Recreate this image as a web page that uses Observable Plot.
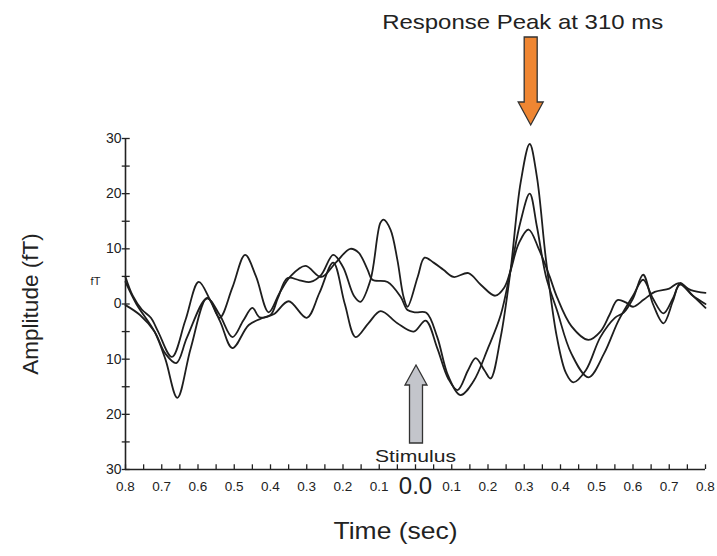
<!DOCTYPE html>
<html>
<head>
<meta charset="utf-8">
<script src="https://cdn.jsdelivr.net/npm/d3@7"></script>
<script src="https://cdn.jsdelivr.net/npm/@observablehq/plot@0.6"></script>
<style>
  html, body { margin: 0; padding: 0; background: #fff; }
  #chart svg { display: block; }
</style>
</head>
<body>
<div id="chart"></div>
<script>
// ---- Data (time in s, amplitude in fT) ----
const traceA = [
  [-0.80, 4.0], [-0.77, 0.0], [-0.72, -5.0], [-0.69, -10.0], [-0.657, -17.0], [-0.62, -8.0],
  [-0.575, 1.1], [-0.54, -3.0], [-0.505, -8.0], [-0.46, -3.8], [-0.42, -2.5], [-0.39, -1.8],
  [-0.35, 0.5], [-0.30, -2.5], [-0.265, 2.0], [-0.227, 7.5], [-0.195, 0.0], [-0.165, -6.0],
  [-0.13, -3.5], [-0.096, -1.3], [-0.05, -3.5], [-0.005, -5.0], [0.028, -3.0], [0.06, -8.0],
  [0.09, -13.5], [0.116, -15.6], [0.145, -12.0], [0.166, -9.8], [0.19, -12.0], [0.207, -13.5],
  [0.235, -6.0], [0.262, 6.0], [0.29, 22.0], [0.315, 29.0], [0.335, 23.0], [0.36, 8.0],
  [0.39, -6.0], [0.415, -12.5], [0.435, -14.2], [0.47, -12.0], [0.51, -6.0], [0.55, -2.5],
  [0.575, -1.5], [0.60, 1.0], [0.628, 5.3], [0.655, 0.0], [0.684, -3.5], [0.71, 0.5],
  [0.73, 3.8], [0.765, 1.5], [0.80, -0.7]
];
const traceB = [
  [-0.80, 4.9], [-0.78, 1.5], [-0.755, -1.0], [-0.73, -2.5], [-0.71, -5.0], [-0.672, -9.6],
  [-0.635, -3.0], [-0.598, 4.0], [-0.565, 0.5], [-0.54, -2.5], [-0.505, 3.0], [-0.47, 8.9],
  [-0.44, 5.0], [-0.405, -1.5], [-0.375, 2.0], [-0.345, 5.0], [-0.304, 6.9], [-0.26, 4.9],
  [-0.22, 7.5], [-0.18, 10.0], [-0.157, 9.3], [-0.132, 6.2], [-0.119, 4.4], [-0.077, 4.0],
  [-0.041, 1.3], [-0.022, -1.1], [0.0, -1.5], [0.03, -1.6], [0.06, -6.0], [0.09, -13.0],
  [0.124, -16.5], [0.16, -14.0], [0.20, -8.0], [0.235, -2.0], [0.262, 6.0], [0.29, 15.0],
  [0.315, 20.0], [0.335, 14.0], [0.36, 5.0], [0.39, -1.1], [0.43, -9.0], [0.477, -13.3],
  [0.52, -9.0], [0.56, -3.0], [0.60, 1.5], [0.628, 4.4], [0.655, 1.0], [0.684, -1.7],
  [0.71, 1.0], [0.73, 3.5], [0.765, 1.5], [0.80, 0.0]
];
const traceC = [
  [-0.80, -0.2], [-0.76, -2.0], [-0.72, -5.0], [-0.69, -9.0], [-0.66, -10.7], [-0.63, -6.0],
  [-0.575, 1.0], [-0.54, -2.0], [-0.505, -6.0], [-0.475, -3.0], [-0.45, -0.7], [-0.43, -2.4],
  [-0.40, -2.0], [-0.38, 1.0], [-0.353, 4.7], [-0.32, 4.3], [-0.29, 4.0], [-0.26, 5.3],
  [-0.227, 8.9], [-0.20, 6.7], [-0.17, 1.5], [-0.152, 0.4], [-0.124, 4.4], [-0.097, 14.7],
  [-0.088, 15.3], [-0.069, 13.5], [-0.05, 8.0], [-0.033, 1.3], [-0.022, -0.5], [0.006, 4.9],
  [0.025, 8.4], [0.05, 7.5], [0.077, 6.2], [0.105, 4.9], [0.146, 5.6], [0.18, 3.5],
  [0.22, 1.5], [0.245, 3.0], [0.262, 6.0], [0.285, 11.0], [0.312, 13.5], [0.34, 10.0],
  [0.37, 5.0], [0.39, 1.3], [0.43, -4.0], [0.477, -6.5], [0.51, -5.0], [0.535, -2.0],
  [0.557, 0.7], [0.58, 0.3], [0.60, -0.5], [0.63, 0.8], [0.66, 2.2], [0.70, 2.8],
  [0.726, 3.8], [0.76, 2.5], [0.80, 2.0]
];
const seriesNames = ["A", "B", "C"];

const xLabelValues = [-0.8, -0.7, -0.6, -0.5, -0.4, -0.3, -0.2, -0.1, 0.0, 0.1, 0.2, 0.3, 0.4, 0.5, 0.6, 0.7, 0.8];
const xMinorTicks = [-0.8, -0.75, -0.7, -0.65, -0.6, -0.55, -0.5, -0.45, -0.4, -0.35, -0.3, -0.25, -0.2, -0.15, -0.1, -0.05, 0.0,
                     0.05, 0.1, 0.15, 0.2, 0.25, 0.3, 0.35, 0.4, 0.45, 0.5, 0.55, 0.6, 0.65, 0.7, 0.75, 0.8];
const yLabelValues = [30, 20, 10, 0, -10, -20, -30];
const yMinorTicks = [30, 25, 20, 15, 10, 5, 0, -5, -10, -15, -20, -25, -30];

const peakTime = 0.315;
const stimulusTime = 0.0;
const titleText = "Response Peak at 310 ms";
const stimulusText = "Stimulus";
const xTitle = "Time (sec)";
const yTitle = "Amplitude (fT)";
const unitText = "fT";

// ---- build table ----
const rows = [];
[traceA, traceB, traceC].forEach((tr, i) => tr.forEach(([t, v]) => rows.push({series: seriesNames[i], t, v})));

const X0 = -0.8, X1 = 0.8, Y0 = -30, Y1 = 30;
const font = "'Liberation Sans', Arial, Helvetica, sans-serif";

const chart = Plot.plot({
  width: 717,
  height: 556,
  marginLeft: 125,
  marginRight: 12,
  marginTop: 138,
  marginBottom: 87,
  style: {fontFamily: font, background: "#fff", color: "#222"},
  x: {domain: [X0, X1], axis: null},
  y: {domain: [Y0, Y1], axis: null},
  marks: [
    // axes lines
    Plot.ruleX([X0], {y1: Y0, y2: Y1, stroke: "#222", strokeWidth: 1.6}),
    Plot.ruleY([Y0], {x1: X0, x2: X1, stroke: "#222", strokeWidth: 1.6}),
    // y ticks crossing the axis
    Plot.ruleY(yMinorTicks, {y: d => d, x1: X0 - 0.009, x2: X0 + 0.013, stroke: "#222", strokeWidth: 1.3}),
    // x ticks pointing up
    Plot.ruleX(xMinorTicks, {x: d => d, y1: Y0, y2: Y0 + 0.85, stroke: "#222", strokeWidth: 1.3}),
    // y labels
    Plot.text(yLabelValues, {x: X0, y: d => d, text: d => String(Math.abs(d)), textAnchor: "end", dx: -4, fontSize: 14, fill: "#222"}),
    // x labels
    Plot.text(xLabelValues.filter(d => d !== 0), {x: d => d, y: Y0, text: d => Math.abs(d).toFixed(1), dy: 17, fontSize: 13.5, fill: "#222"}),
    Plot.text([0], {x: d => d, y: Y0, text: d => Math.abs(d).toFixed(1), dy: 17, fontSize: 24, fill: "#222"}),
    // unit label
    Plot.text([unitText], {x: X0, y: 4, text: d => d, dx: -30, fontSize: 11, fill: "#222"}),
    // traces
    Plot.line(rows, {x: "t", y: "v", z: "series", curve: "catmull-rom", stroke: "#1e1e1e", strokeWidth: 1.8}),
    // annotations
    Plot.text([titleText], {x: peakTime, y: Y1, text: d => d, dy: -116, dx: -7, fontSize: 21, fill: "#222"}),
    Plot.text([stimulusText], {x: stimulusTime, y: Y0, text: d => d, dy: -13, fontSize: 17, fill: "#222"}),
    Plot.text([xTitle], {frameAnchor: "bottom", textAnchor: "middle", text: d => d, dy: 69, dx: -20, fontSize: 24, fill: "#222"}),
    Plot.text([yTitle], {frameAnchor: "left", textAnchor: "middle", text: d => d, dx: -95, rotate: -90, fontSize: 22.5, fill: "#222"})
  ]
});

// stretch some horizontal texts to the reference widths
const widths = {[titleText]: 281, [stimulusText]: 81, [xTitle]: 124};
d3.select(chart).selectAll("text").each(function () {
  const w = widths[this.textContent];
  if (w) d3.select(this).attr("textLength", w).attr("lengthAdjust", "spacingAndGlyphs");
});

// block arrows positioned with the chart's scales
const xs = chart.scale("x"), ys = chart.scale("y");
const g = d3.select(chart).append("g").attr("stroke", "#333").attr("stroke-width", 1.3).attr("stroke-linejoin", "miter");
{
  const cx = xs.apply(peakTime) + 1.5;
  const top = 37, neck = 102, tip = ys.apply(Y1) - 13;
  g.append("path")
    .attr("d", `M${cx-6.5},${top} L${cx+6.5},${top} L${cx+6.5},${neck} L${cx+12.5},${neck} L${cx},${tip} L${cx-12.5},${neck} L${cx-6.5},${neck} Z`)
    .attr("fill", "#ef8632");
}
{
  const cx = xs.apply(stimulusTime) + 1;
  const tip = 365, neck = 385, bottom = 443;
  g.append("path")
    .attr("d", `M${cx},${tip} L${cx+11},${neck} L${cx+6.5},${neck} L${cx+6.5},${bottom} L${cx-6.5},${bottom} L${cx-6.5},${neck} L${cx-11},${neck} Z`)
    .attr("fill", "#c3c5cb");
}

document.getElementById("chart").appendChild(chart);
</script>
</body>
</html>
